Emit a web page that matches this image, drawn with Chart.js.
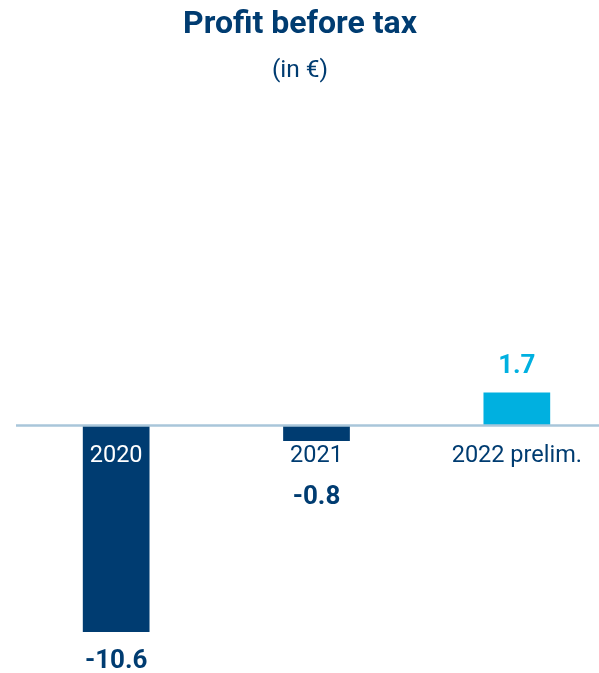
<!DOCTYPE html>
<html>
<head>
<meta charset="utf-8">
<script src="https://cdn.jsdelivr.net/npm/chart.js@4.4.0/dist/chart.umd.min.js"></script>
<style>
  html, body { margin: 0; padding: 0; background: #fff; overflow: hidden; }
  #wrap { position: relative; width: 599px; height: 673px; overflow: hidden; }
  canvas { position: absolute; left: 0; top: 0; }
</style>
</head>
<body>
<div id="wrap"><canvas id="myChart" width="619" height="673"></canvas></div>
<script>
const years = ['2020', '2021', '2022 prelim.'];
const profit = [-10.6, -0.8, 1.7];
const valueLabels = ['-10.6', '-0.8', '1.7'];
const titleText = 'Profit before tax';
const subtitleText = '(in €)';

const darkBlue = '#003c71';
const lightBlue = '#00b0e0';
const lineColor = '#a9c6da';
const font = 'Roboto, "Noto Sans", sans-serif';

// draws title, zero line, year labels and value labels
const labelsPlugin = {
    id: 'barLabels',
    afterDatasetsDraw(chart) {
        const ctx = chart.ctx;
        const y = chart.scales.y;
        const area = chart.chartArea;
        const zero = y.getPixelForValue(0);
        const meta = chart.getDatasetMeta(0);

        ctx.save();
        ctx.textAlign = 'center';
        ctx.textBaseline = 'middle';
        // title is centred on the visible page, not the (wider) chart area
        ctx.fillStyle = darkBlue;
        ctx.font = 'bold 32px ' + font;
        ctx.fillText(titleText, 300, 24.5);
        ctx.font = '24.5px ' + font;
        ctx.fillText(subtitleText, 300, 71);

        ctx.strokeStyle = lineColor;
        ctx.lineWidth = 2.5;
        ctx.beginPath();
        ctx.moveTo(area.left, zero);
        ctx.lineTo(chart.width, zero);
        ctx.stroke();

        meta.data.forEach((bar, i) => {
            const v = profit[i];
            const labelY = zero + 31;
            ctx.font = '23.5px ' + font;
            ctx.fillStyle = (v < 0 && bar.y > labelY + 14) ? '#ffffff' : darkBlue;
            ctx.fillText(years[i], bar.x, labelY);

            ctx.font = 'bold 26px ' + font;
            ctx.fillStyle = v < 0 ? darkBlue : lightBlue;
            let vy;
            if (v < 0) vy = Math.max(bar.y + 29, zero + 72);
            else vy = bar.y - 26;
            ctx.fillText(valueLabels[i], bar.x, vy);
        });
        ctx.restore();
    }
};

const ctx = document.getElementById('myChart').getContext('2d');
const chart = new Chart(ctx, {
    type: 'bar',
    data: {
        labels: years,
        datasets: [{
            data: profit,
            backgroundColor: profit.map(v => v < 0 ? darkBlue : lightBlue),
            borderWidth: 0,
            categoryPercentage: 1,
            barPercentage: 0.333
        }]
    },
    options: {
        responsive: false,
        animation: false,
        layout: { padding: { left: 16, right: 2, top: 90.5, bottom: 41 } },
        scales: {
            x: { display: false },
            y: { display: false, min: -10.6, max: 17.2 }
        },
        plugins: {
            legend: { display: false },
            tooltip: { enabled: false },
            title: { display: false },
            subtitle: { display: false }
        }
    },
    plugins: [labelsPlugin]
});
</script>
</body>
</html>
